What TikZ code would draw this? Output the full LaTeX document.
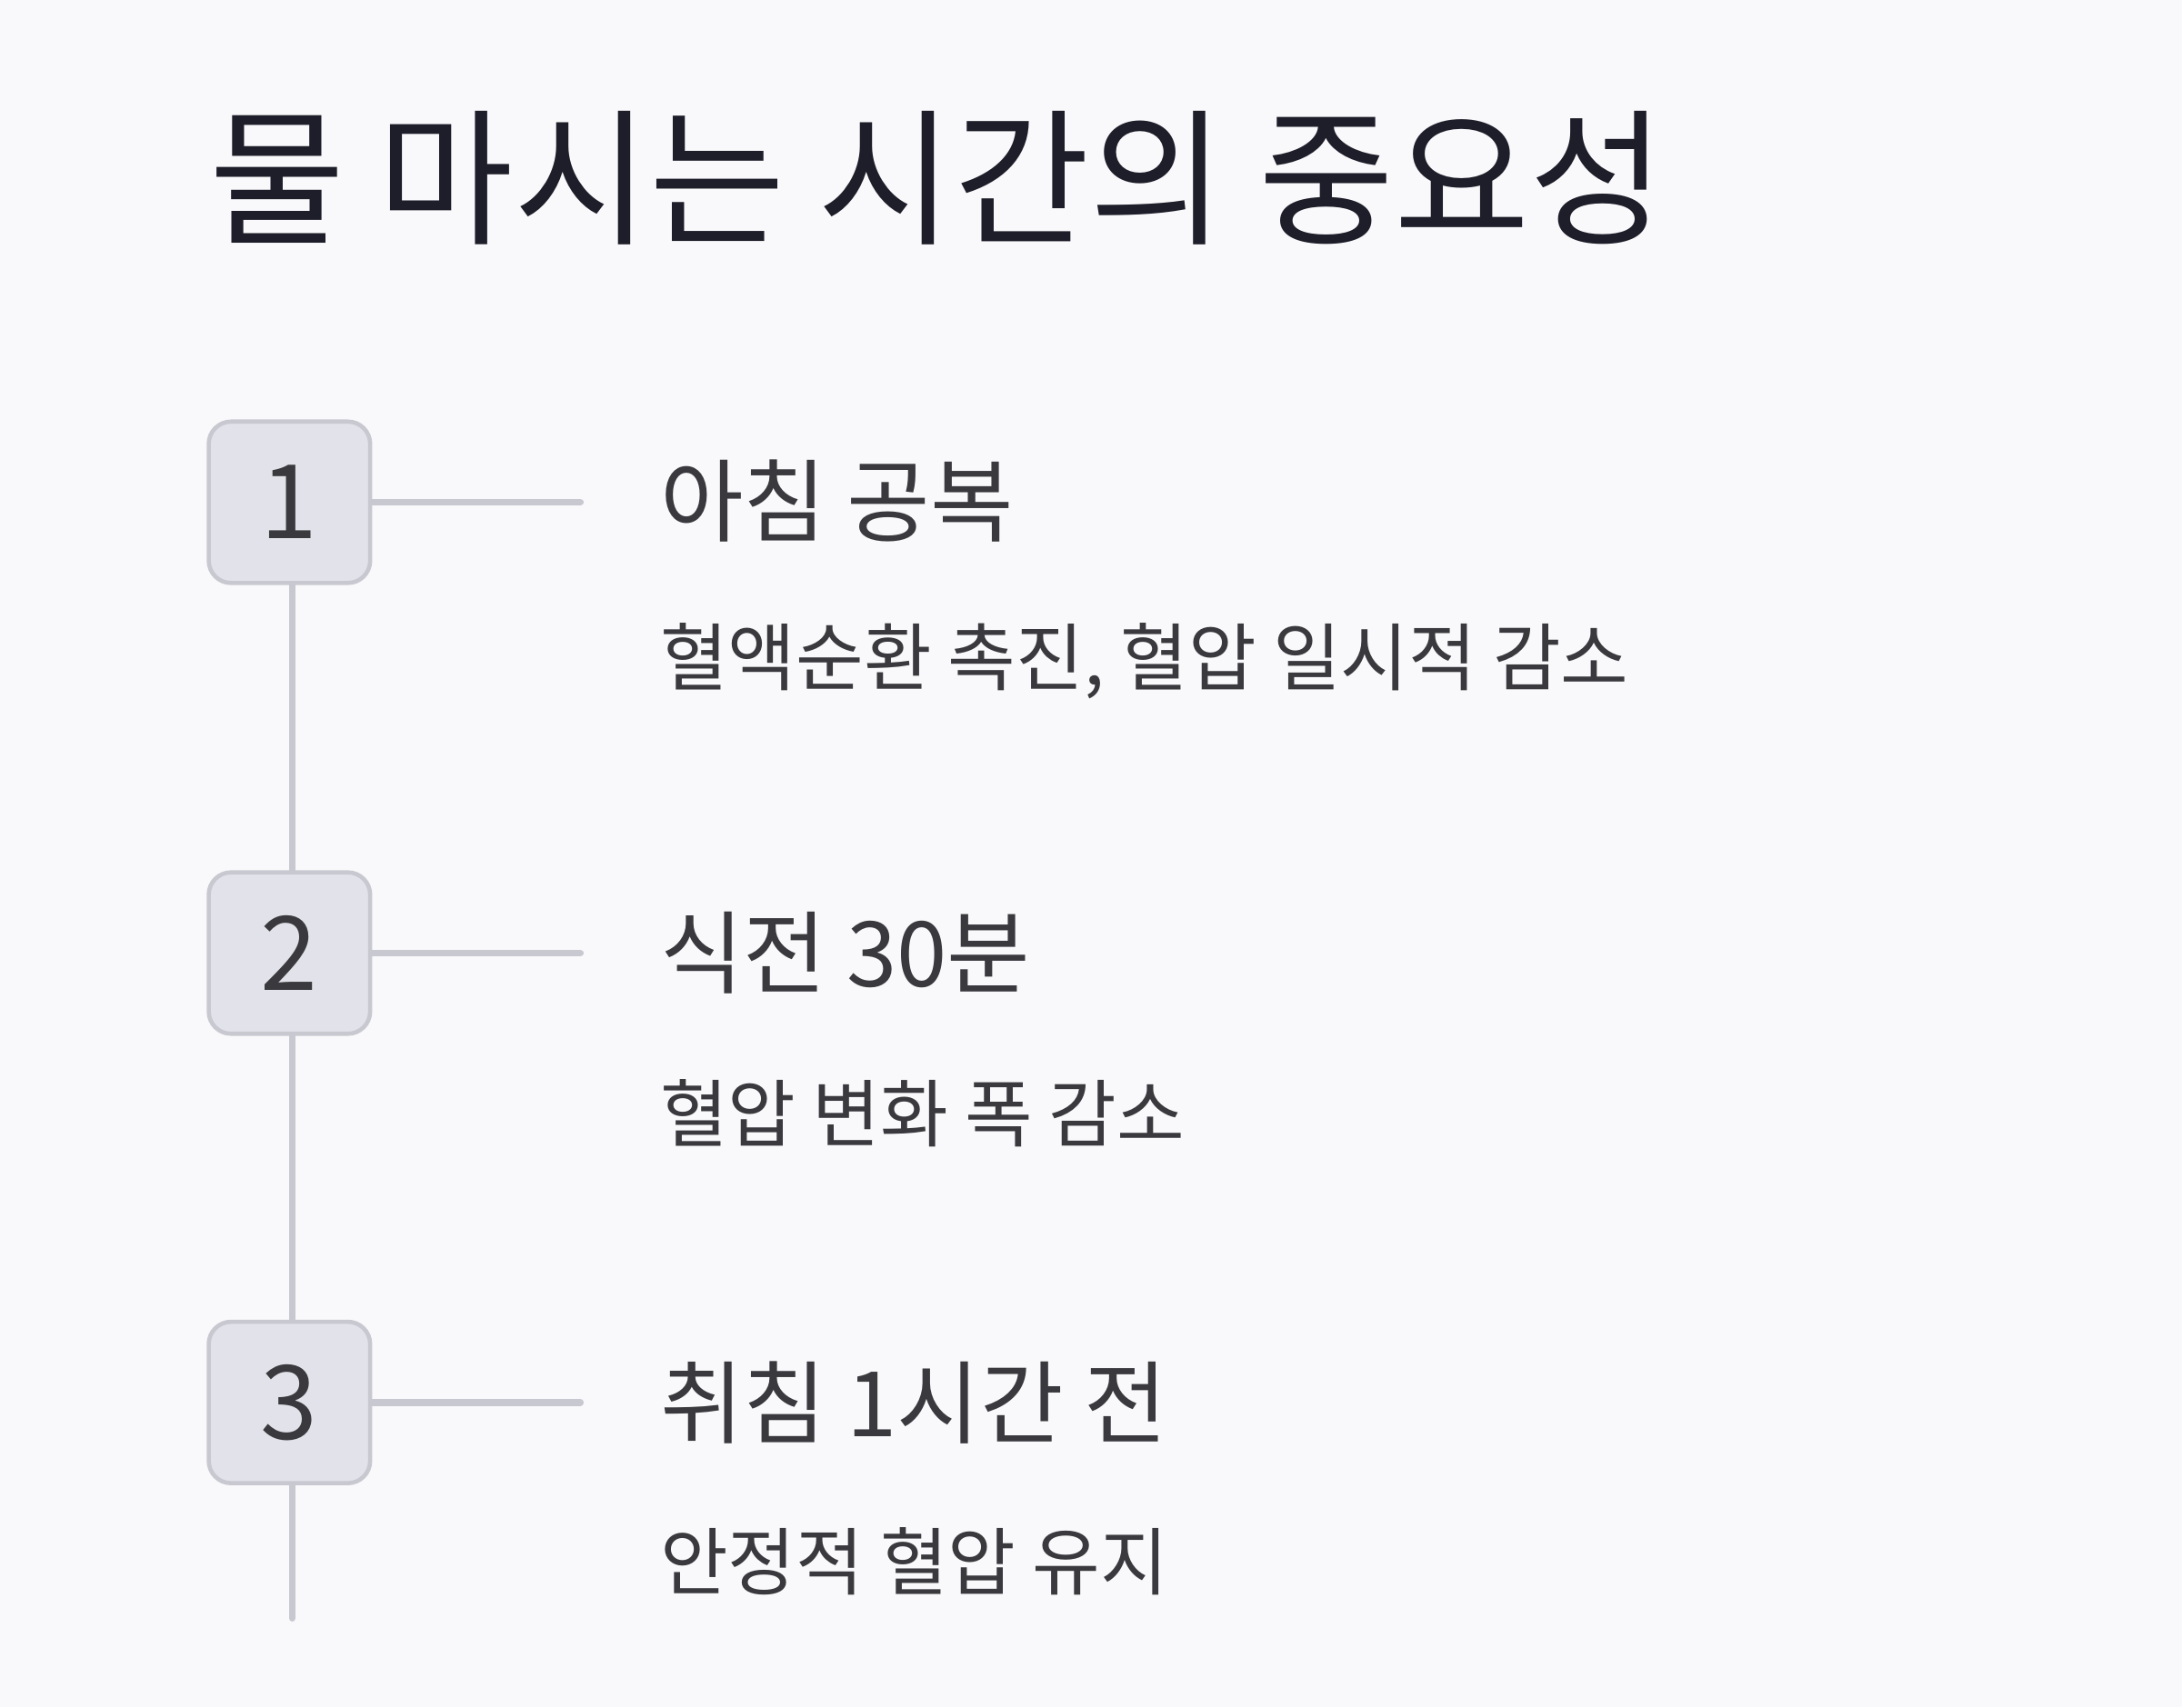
\documentclass[tikz,border=0pt]{standalone}
\usepackage{fontspec}
\setmainfont{Noto Sans CJK KR}
\definecolor{bg}{HTML}{F9F9FB}
\definecolor{ttl}{HTML}{1E1E2A}
\definecolor{txt}{HTML}{3A3A3E}
\definecolor{boxf}{HTML}{E2E3EA}
\definecolor{line}{HTML}{C8C8D0}
\tikzset{
 numbox/.style={draw=line,line width=1.5pt,fill=boxf,rounded corners=8pt,minimum width=58pt,minimum height=58pt,text=txt,font=\fontsize{37}{37}\selectfont,inner sep=0pt},
 conn/.style={draw=line,line width=2.5pt,line cap=round},
 head/.style={anchor=west,text=txt,font=\fontsize{32.5}{32.5}\selectfont,inner sep=0pt},
 sub/.style={anchor=west,text=txt,font=\fontsize{26.5}{26.5}\selectfont,inner sep=0pt}
}
\begin{document}
\begin{tikzpicture}[x=0.5pt,y=-0.5pt]
\fill[bg] (0,0) rectangle (1568,1227);
\useasboundingbox (0,0) rectangle (1568,1227);
\node[anchor=west,text=ttl,font=\fontsize{53}{53}\selectfont,inner sep=0pt] (title) at (150,128) {물 마시는 시간의 중요성};
\coordinate (end) at (210,1163);
\node[numbox] (b1) at (208,361) {1};
\node[numbox] (b2) at (208,685) {2};
\node[numbox] (b3) at (208,1008) {3};
\coordinate (c1) at (417,361);
\coordinate (c2) at (417,685);
\coordinate (c3) at (417,1008);
\draw[conn] (b1.south -| end) -- (b2.north -| end);
\draw[conn] (b2.south -| end) -- (b3.north -| end);
\draw[conn] (b3.south -| end) -- (end);
\draw[conn] (b1.east) -- (c1);
\draw[conn] (b2.east) -- (c2);
\draw[conn] (b3.east) -- (c3);
\node[head] (h1) at (474,360) {아침 공복};
\node[sub] (s1) at (474,475) {혈액순환 촉진, 혈압 일시적 감소};
\node[head] (h2) at (474,685) {식전 30분};
\node[sub] (s2) at (474,800) {혈압 변화 폭 감소};
\node[head] (h3) at (474,1008) {취침 1시간 전};
\node[sub] (s3) at (474,1122) {안정적 혈압 유지};
\end{tikzpicture}
\end{document}
